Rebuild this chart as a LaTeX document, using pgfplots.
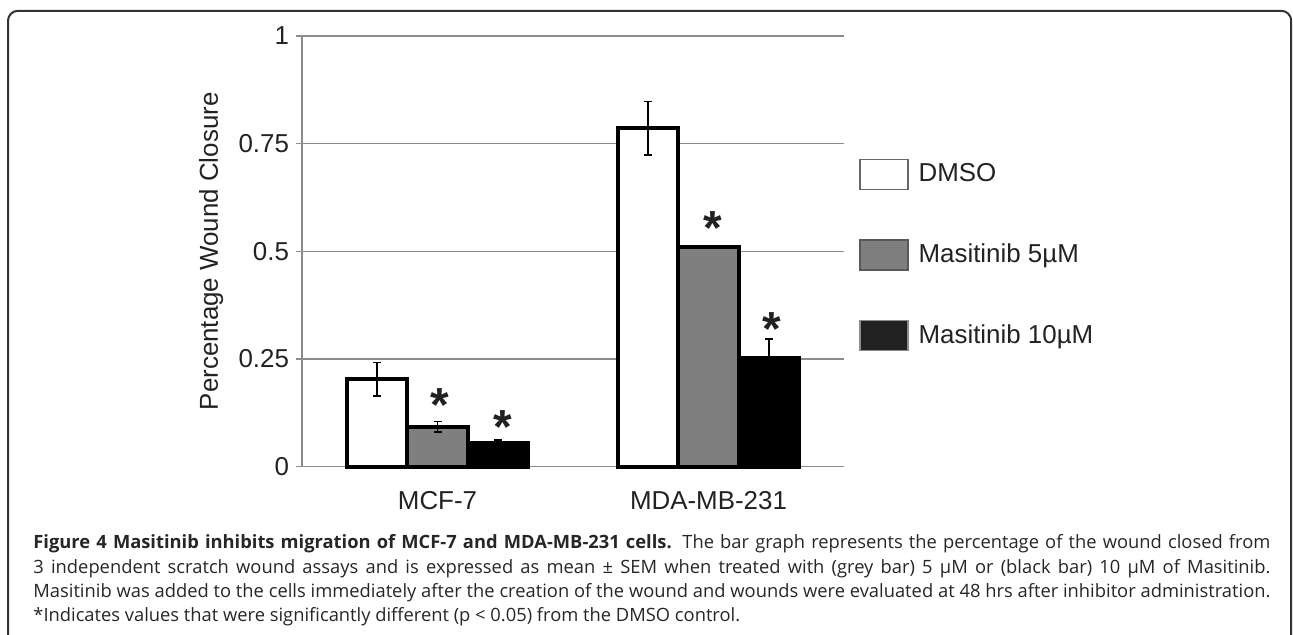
\documentclass[border=0pt]{standalone}
\usepackage{fontspec}
\setmainfont{Liberation Sans}
\newfontfamily\capfont{Open Sans}
\usepackage{pgfplots}
\pgfplotsset{compat=1.18}

\definecolor{gridgray}{HTML}{8C8C8C}
\definecolor{bargray}{HTML}{7F7F7F}
\definecolor{txt}{HTML}{222222}

\newcommand{\starmark}{{\fontsize{24}{24}\selectfont\bfseries *}}
\newcommand{\capline}[1]{\makebox[618.5bp][s]{#1}}

\begin{document}
\begin{tikzpicture}
\useasboundingbox (0,0) rectangle (646.5bp,-317.5bp);
% frame of the figure
\draw[line width=1bp, color=black!80, rounded corners=5bp]
  (4bp,-330bp) -- (4bp,-5.4bp) -- (645.6bp,-5.4bp) -- (645.6bp,-330bp);

\begin{axis}[
    at={(151bp,-233.35bp)}, anchor=south west,
    scale only axis, width=271bp, height=215.35bp,
    xmin=-0.5, xmax=1.5, ymin=0, ymax=1,
    clip=false,
    axis y line*=left, axis x line*=bottom,
    x axis line style={draw=none},
    y axis line style={gridgray, line width=0.75bp},
    xtick={0,1}, xticklabels={MCF-7, MDA-MB-231},
    xtick style={draw=none},
    ytick={0,0.25,0.5,0.75,1},
    yticklabels={0,0.25,0.5,0.75,1},
    ytick style={gridgray, line width=0.75bp},
    tick align=outside, major tick length=3bp,
    ymajorgrids, grid style={gridgray, line width=0.75bp},
    /pgf/number format/assume math mode=true,
    tick label style={font=\fontsize{13}{15}\selectfont, text=txt},
    xticklabel style={yshift=-6bp},
    ylabel={Percentage Wound Closure},
    ylabel style={font=\fontsize{13}{15}\selectfont, text=txt,
      at={(axis description cs:-0.155,0.5)}, anchor=base},
    legend style={at={(axis description cs:1.0277,0.4915)}, anchor=west,
      draw=none, fill=none, inner sep=0pt, row sep=24.75bp,
      font=\fontsize{13}{15}\selectfont, text=txt,
      nodes={inner sep=0pt},
      /tikz/every odd column/.append style={column sep=5bp}},
    legend cell align=left,
    error bars/error bar style={black, line width=0.75bp},
    error bars/error mark options={black, line width=0.75bp, mark size=2bp, rotate=90},
  ]

% DMSO
\addplot[ybar, bar width=0.2235, bar shift=0pt, fill=white, draw=black,
  line width=2bp, forget plot,
  error bars/.cd, y dir=both, y explicit]
  coordinates {(-0.2235,0.203) +- (0,0.039) (0.7765,0.786) +- (0,0.062)};
% Masitinib 5 uM
\addplot[ybar, bar width=0.2235, bar shift=0pt, fill=bargray, draw=black,
  line width=2bp, forget plot,
  error bars/.cd, y dir=both, y explicit]
  coordinates {(0,0.093) +- (0,0.012) (1,0.511) +- (0,0.003)};
% Masitinib 10 uM
\addplot[ybar, bar width=0.2235, bar shift=0pt, fill=black, draw=black,
  line width=2bp, forget plot,
  error bars/.cd, y dir=both, y explicit]
  coordinates {(0.2235,0.054) +- (0,0.008) (1.2235,0.253) +- (0,0.043)};

% significance stars
\addplot[draw=none, forget plot, nodes near coords={\starmark},
  every node near coord/.style={anchor=base, yshift=-13.9bp, inner sep=0pt, text=txt}]
  coordinates {(0.01,0.169) (0.24,0.118) (1.015,0.580) (1.235,0.345)};

\addlegendimage{legend image code/.code={
  \draw[fill=white, draw=black!60, line width=0.6bp] (0bp,-7.5bp) rectangle (24bp,7.5bp);}}
\addlegendentry{DMSO}
\addlegendimage{legend image code/.code={
  \draw[fill=bargray, draw=black!65, line width=0.6bp] (0bp,-7.5bp) rectangle (24bp,7.5bp);}}
\addlegendentry{Masitinib 5µM}
\addlegendimage{legend image code/.code={
  \draw[fill=black!87, draw=black!45, line width=0.6bp] (0bp,-7.5bp) rectangle (24bp,7.5bp);}}
\addlegendentry{Masitinib 10µM}
\end{axis}

% caption (justified lines, last line natural)
\begin{scope}[every node/.style={anchor=base west, inner sep=0pt, text=black!85,
    font=\capfont\fontsize{9.2}{11}\selectfont}]
\node at (16.5bp,-274.15bp) {\capline{\textbf{Figure 4 Masitinib inhibits migration of MCF-7 and MDA-MB-231 cells.} The bar graph represents the percentage of the wound closed from}};
\node at (16.5bp,-286.5bp) {\capline{3 independent scratch wound assays and is expressed as mean ± SEM when treated with (grey bar) 5 µM or (black bar) 10 µM of Masitinib.}};
\node at (16.5bp,-298.6bp) {\capline{Masitinib was added to the cells immediately after the creation of the wound and wounds were evaluated at 48 hrs after inhibitor administration.}};
\node at (16.5bp,-310.85bp) {*Indicates values that were significantly different (p < 0.05) from the DMSO control.};
\end{scope}
\end{tikzpicture}
\end{document}
